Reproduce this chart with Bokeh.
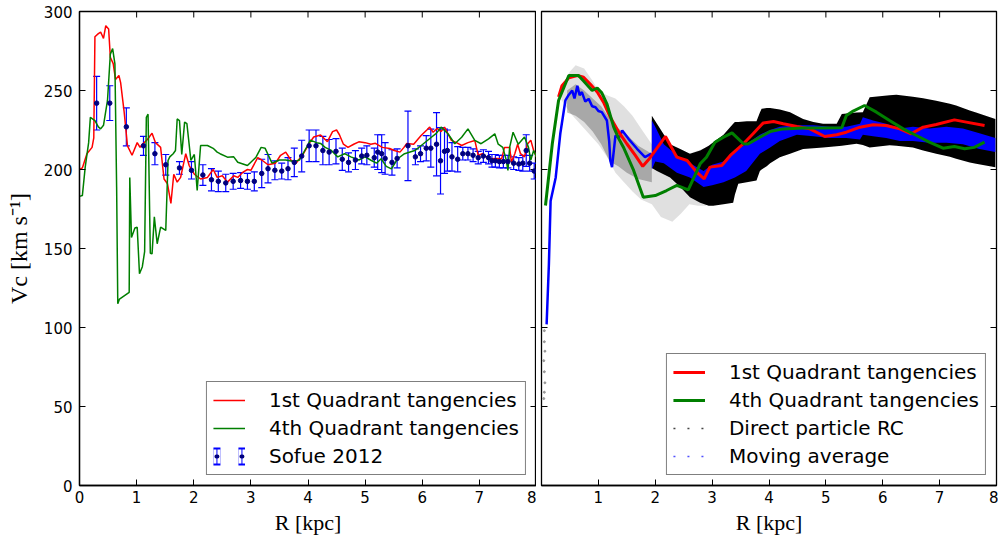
from bokeh.plotting import figure
from bokeh.models import (Range1d, FixedTicker, Legend, LegendItem,
                          Whisker, TeeHead, ColumnDataSource)
from bokeh.layouts import row
from bokeh.embed import file_html
from bokeh.resources import INLINE

# ---------------- data ----------------
x_ticks = [0, 1, 2, 3, 4, 5, 6, 7, 8]
y_ticks = [0, 50, 100, 150, 200, 250, 300]

# Left panel: 1st quadrant tangencies
q1_R = [0.0, 0.05, 0.13, 0.22, 0.25, 0.27, 0.33, 0.37, 0.42, 0.46, 0.51, 0.54, 0.59, 0.63, 0.69, 0.72,
        0.78, 0.84, 0.92, 1.01, 1.06, 1.1, 1.19, 1.27, 1.33, 1.42, 1.48, 1.54, 1.6, 1.65, 1.71, 1.77,
        1.86, 1.92, 2.01, 2.12, 2.24, 2.34, 2.41, 2.5, 2.59, 2.7, 2.77, 2.85, 2.94, 3.0, 3.12, 3.19,
        3.3, 3.43, 3.52, 3.61, 3.7, 3.79, 3.92, 4.03, 4.1, 4.22, 4.3, 4.34, 4.43, 4.5, 4.55, 4.62,
        4.7, 4.8, 4.89, 5.0, 5.1, 5.18, 5.3, 5.43, 5.51, 5.61, 5.68, 5.73, 5.85, 5.92, 5.98, 6.08,
        6.13, 6.19, 6.26, 6.33, 6.39, 6.46, 6.51, 6.6, 6.69, 6.8, 6.92, 6.98, 7.05, 7.16, 7.3, 7.39,
        7.44, 7.53, 7.56, 7.62, 7.67, 7.72, 7.79, 7.84, 7.9, 7.95, 8.0]
q1_V = [200, 201, 210, 214, 220, 284, 286, 287, 283, 291, 289, 271, 267, 257, 259.5, 255,
        237, 215, 209, 217, 214, 216, 219, 223, 217, 214, 194, 191, 178.5, 197, 192, 195,
        210, 202.5, 197, 194, 195, 200, 195, 196, 192, 196, 195, 198, 200, 199.5, 207.5, 206,
        203, 204, 209, 211, 206, 204, 210, 217, 220.6, 221.8, 219, 217.6, 224, 225, 222, 216,
        214, 216, 217.5, 217, 216, 216.6, 214, 213.3, 212, 211, 214, 216.5, 216, 219, 221.5, 225,
        226.8, 223.6, 226, 224, 226.8, 222, 218.4, 217, 215.2, 217, 218.4, 208.9, 210, 206.8, 207, 206.8,
        214, 214, 204.6, 210, 216, 210, 208, 216, 218.6, 212, 208]

# Left panel: 4th quadrant tangencies
q4_R = [0.0, 0.05, 0.1, 0.16, 0.19, 0.27, 0.33, 0.37, 0.42, 0.49, 0.54, 0.58, 0.62, 0.65, 0.67, 0.7,
        0.87, 0.88, 0.91, 0.97, 1.01, 1.05, 1.1, 1.14, 1.17, 1.2, 1.24, 1.27, 1.31, 1.36, 1.42, 1.51,
        1.55, 1.58, 1.64, 1.68, 1.71, 1.75, 1.79, 1.84, 1.88, 1.95, 2.01, 2.06, 2.12, 2.24, 2.34, 2.41,
        2.46, 2.59, 2.7, 2.77, 2.94, 3.09, 3.18, 3.25, 3.37, 3.5, 3.61, 3.75, 3.85, 3.98, 4.04, 4.15,
        4.22, 4.3, 4.4, 4.52, 4.64, 4.75, 4.89, 5.0, 5.11, 5.2, 5.28, 5.37, 5.46, 5.57, 5.69, 5.87,
        6.02, 6.16, 6.25, 6.33, 6.45, 6.57, 6.69, 6.8, 6.92, 7.03, 7.16, 7.27, 7.33, 7.41, 7.47, 7.5,
        7.53, 7.59, 7.68, 7.79, 7.86, 7.9, 7.95, 8.0]
q4_V = [183, 183.5, 201.5, 217, 233, 231, 227, 225.7, 228, 243.7, 273, 276.5, 266.8, 188.8, 115, 118,
        122.3, 195, 157, 163, 163.5, 134, 138.5, 148, 233, 235, 147, 146.6, 170, 153, 163.5, 161.4,
        205.7, 208, 210, 212, 232, 231, 209.5, 230, 229, 205.7, 209.5, 186.7, 215.2, 215.2, 213.4, 211,
        210, 207.8, 208, 204.6, 202.5, 207.8, 214, 213.4, 204, 206, 206, 205, 206, 214.4, 218.6, 217,
        216.5, 214, 212.3, 208, 210, 208, 206, 208, 205.7, 204, 206.8, 202, 200.4, 206.8, 210, 212,
        216.3, 220.4, 223, 226.8, 222.6, 216.3, 220.4, 225.7, 218.4, 216.3, 219.4, 222.6, 216, 214, 206, 199.4,
        214, 223.6, 216, 220.6, 214, 206, 212, 208]

# Left panel: Sofue 2012 points with errors
sofue_R = [0.30, 0.53, 0.82, 1.12, 1.32, 1.51, 1.75, 1.96, 2.16, 2.31, 2.43, 2.56, 2.69, 2.82, 2.94,
           3.06, 3.19, 3.30, 3.42, 3.54, 3.65, 3.76, 3.89, 4.02, 4.14, 4.26, 4.37, 4.49, 4.60, 4.71,
           4.83, 4.94, 5.03, 5.16, 5.22, 5.29, 5.35, 5.47, 5.56, 5.75, 5.88, 5.97, 6.07, 6.15, 6.25,
           6.32, 6.39, 6.44, 6.52, 6.62, 6.71, 6.80, 6.89, 6.98, 7.07, 7.16, 7.22, 7.28, 7.35, 7.42,
           7.50, 7.60, 7.69, 7.76, 7.82, 7.88, 7.96]
sofue_V = [242, 242, 227, 215, 210, 203, 201, 199.5, 196.5, 193.5, 192.5, 191.5, 192.5, 193, 192.5,
           192.5, 197.5, 200.5, 199.5, 199, 200.5, 204.5, 208.5, 215, 215, 212, 211, 211.5, 206.5, 204.5,
           206, 208.5, 209, 207.5, 211, 210, 207, 204.5, 207, 215, 208, 210, 213.5, 213.5, 216,
           205.5, 211.5, 212, 208, 206.5, 210, 210, 209, 207.5, 208.5, 207.5, 205.5, 205.5, 205, 205,
           205, 204, 203.5, 204, 212, 204, 199]
sofue_err = [17, 11, 12, 6, 7, 6.5, 4, 5.5, 6.5, 7, 6.5, 5.5, 5, 5, 5,
             6, 9, 9, 6, 5, 7, 9, 10, 10, 10, 9, 8, 8, 7, 6,
             6, 5, 6, 6, 11, 12, 10, 8, 6, 22, 5, 5, 8, 12, 20,
             21, 14, 13, 9, 8, 4, 4, 4, 4, 4, 4, 4, 4, 4, 4,
             4, 4, 4, 5, 10, 5, 5]

# Right panel: tangency curves
rq1_R = [0.3, 0.36, 0.48, 0.63, 0.74, 0.86, 0.98, 1.09, 1.21, 1.36, 1.5, 1.65, 1.78, 1.9, 2.18, 2.38,
         2.56, 2.73, 2.86, 2.96, 3.17, 3.32, 3.55, 3.72, 3.9, 4.08, 4.25, 4.49, 4.72, 4.98, 5.19, 5.36,
         5.6, 5.83, 6.06, 6.3, 6.5, 6.71, 6.94, 7.26, 7.47, 7.79]
rq1_V = [246, 253, 258, 259.5, 258.4, 254, 249, 242.6, 233, 223.6, 216.3, 208.9, 202, 207, 220.9, 207.8,
         205.7, 198.3, 194.1, 201.5, 202.5, 208.9, 216.3, 222.6, 229.5, 230.4, 229, 227.2, 225.7, 220.9, 222, 223.6,
         226.8, 228.3, 227.8, 225.7, 222.6, 226.8, 228.5, 231.4, 230, 227.8]
rq4_R = [0.07, 0.19, 0.3, 0.48, 0.65, 0.74, 0.89, 0.98, 1.06, 1.15, 1.27, 1.36, 1.44, 1.62, 1.79, 2.0,
         2.2, 2.38, 2.58, 2.79, 2.9, 3.05, 3.2, 3.35, 3.55, 3.63, 3.84, 4.02, 4.25, 4.6, 4.95, 5.28,
         5.36, 5.48, 5.68, 5.89, 6.12, 6.36, 6.59, 6.82, 7.06, 7.26, 7.44, 7.61, 7.79]
rq4_V = [177.2, 216.3, 243.7, 259.5, 259.5, 256, 250, 251.6, 248.5, 241.6, 226.8, 219.4, 214.1, 199.4, 182.5, 183.5,
         186.7, 189.9, 187.1, 203.6, 207.8, 217.3, 220.5, 223.2, 216.3, 216.1, 220.4, 224, 225.7, 226.2, 226.2, 226.4,
         234.2, 237, 240.5, 236.3, 231, 225.7, 221.5, 217.3, 213.5, 214.5, 213.1, 214, 217.3]

# Right panel: moving average (inner line, then band)
mavg_R = [0.09, 0.13, 0.16, 0.25, 0.33, 0.42, 0.47, 0.54, 0.58, 0.63, 0.67, 0.71, 0.77, 0.83, 0.89, 0.95,
          1.0, 1.06, 1.15, 1.19, 1.21, 1.24, 1.3, 1.36, 1.42, 1.53, 1.68, 1.82, 1.93]
mavg_V = [102, 140, 180, 195, 222.6, 243.7, 246.8, 250, 245, 253, 247, 249, 243, 244.7, 240, 239.4,
          237, 236.3, 231, 218, 205.7, 201.5, 221.5, 220, 224.7, 219.4, 213.1, 207.8, 210]
band_R = [1.94, 2.0, 2.15, 2.38, 2.61, 2.85, 3.0, 3.2, 3.4, 3.6, 3.84, 4.02, 4.19, 4.49, 4.78, 5.07,
          5.36, 5.6, 5.65, 5.83, 6.06, 6.3, 6.53, 6.82, 7.12, 7.41, 7.7, 7.98]
band_lo = [200, 205, 204, 198, 195, 189, 190, 192, 195, 199, 210, 214, 218, 222, 221, 220,
           220, 219, 222, 221, 220, 218, 218, 217, 217, 216, 213, 211]
band_hi = [231, 227, 216, 209, 204, 199, 203, 205, 212, 216, 222, 225, 227, 228, 228, 227,
           227, 229, 233, 231, 229, 226, 227, 226, 227, 226, 223, 220]

# Right panel: direct particle RC (dense envelope, sparse cloud, low-R particles)
black_R = [1.94, 2.03, 2.26, 2.44, 2.61, 2.79, 2.94, 3.02, 3.2, 3.37, 3.4, 3.46, 3.61, 3.78, 3.84, 3.87,
           3.96, 4.02, 4.19, 4.37, 4.6, 4.78, 4.95, 5.19, 5.28, 5.54, 5.65, 5.77, 6.12, 6.24, 6.53, 6.71,
           6.94, 7.18, 7.29, 7.53, 7.64, 7.98]
black_lo = [201, 199, 195, 189, 182.5, 179, 177, 177, 178, 179, 184, 191, 192, 193, 199, 200,
            202, 204, 207.8, 210, 213, 213.5, 214, 214.7, 215, 216.3, 215.5, 214, 215.4, 215, 214, 212,
            210, 208, 206.8, 204.5, 203.6, 201.5]
black_hi = [234, 229, 216, 213, 210, 212, 215, 217.3, 222, 229, 230, 230, 230.6, 230.5, 236, 238.4,
            239, 239, 238, 236.3, 232, 230, 229, 229, 235.2, 236, 236.3, 245.8, 247, 247.3, 246, 245.1,
            243.5, 241.6, 240.5, 237.3, 236, 232]
cloud_R = [0.35, 0.5, 0.6, 0.75, 0.9, 1.0, 1.15, 1.3, 1.45, 1.6, 1.75, 1.94, 2.1, 2.3, 2.45, 2.6, 2.75, 2.9]
cloud_hi = [252, 262, 266, 264, 256, 250, 247, 245, 240, 234, 226, 216, 214, 212, 212, 210, 212, 214]
cloud_lo = [244, 236, 232, 226, 220, 216, 208, 198, 192, 186, 181, 178, 170, 167, 172, 178, 177, 177]
dense_R = [0.45, 0.6, 0.75, 0.9, 1.05, 1.2, 1.35, 1.5, 1.7, 1.94]
dense_hi = [250, 254, 250, 245, 240, 232, 226, 222, 215, 210]
dense_lo = [236, 234, 230, 224, 216, 205, 202, 198, 194, 192]
low_R = [0.05, 0.05, 0.06, 0.04, 0.05, 0.06, 0.05, 0.04]
low_V = [98, 91, 85, 79, 72, 65, 59, 55]

# ---------------- layout constants ----------------
H = 540
FRAME_TOP, FRAME_BOTTOM = 11, 485
P1_W, P1_LEFT, P1_RIGHT = 536, 79, 0
P2_W, P2_LEFT, P2_RIGHT = 462, 5, 2
TICK_PX = 6
RED, GREEN, BLUE, NAVY = "#ff0000", "#007f00", "#0000ff", "#00007f"
SERIF = "Liberation Serif"


def make_fig(width, left, right):
    p = figure(width=width, height=H, x_range=Range1d(0, 8), y_range=Range1d(0, 300),
               output_backend="svg", toolbar_location=None,
               min_border_left=left, min_border_right=right,
               min_border_top=FRAME_TOP, min_border_bottom=H - FRAME_BOTTOM)
    p.grid.visible = False
    p.outline_line_color = "black"
    p.outline_line_width = 1.3
    p.background_fill_color = "white"
    p.border_fill_color = "white"
    return p


def style_axis(ax, ticks, standoff, overrides=None):
    ax.ticker = FixedTicker(ticks=ticks)
    ax.major_tick_in = TICK_PX
    ax.major_tick_out = 0
    ax.major_tick_line_color = "black"
    ax.minor_tick_line_color = None
    ax.axis_line_color = "black"
    ax.axis_line_width = 1.3
    ax.major_label_text_font = "DejaVu Sans"
    ax.major_label_text_font_size = "15px"
    ax.major_label_text_color = "black"
    ax.major_label_standoff = standoff
    if overrides:
        ax.major_label_overrides = overrides
    ax.axis_label_text_font = SERIF
    ax.axis_label_text_font_size = "22px"
    ax.axis_label_text_font_style = "normal"
    ax.axis_label_text_color = "black"


def inner_ticks(p, frame_w, left_side):
    """Inward ticks on the top/right (and optionally left) frame edges."""
    ty = TICK_PX * 300.0 / (FRAME_BOTTOM - FRAME_TOP)
    tx = TICK_PX * 8.0 / frame_w
    nx, ny = len(x_ticks), len(y_ticks)
    p.segment(x0=x_ticks, y0=[300] * nx, x1=x_ticks, y1=[300 - ty] * nx, line_color="black", line_width=1)
    p.segment(x0=[8] * ny, y0=y_ticks, x1=[8 - tx] * ny, y1=y_ticks, line_color="black", line_width=1)
    if left_side:
        p.segment(x0=[0] * ny, y0=y_ticks, x1=[tx] * ny, y1=y_ticks, line_color="black", line_width=1)


def style_legend(lg):
    lg.location = "bottom_right"
    lg.margin = 10
    lg.padding = 6
    lg.spacing = 4
    lg.glyph_width = 32
    lg.glyph_height = 22
    lg.label_height = 22
    lg.label_standoff = 24
    lg.label_text_font = "DejaVu Sans"
    lg.label_text_font_size = "20px"
    lg.label_text_color = "black"
    lg.border_line_color = "black"
    lg.border_line_width = 1
    lg.background_fill_color = "white"
    lg.background_fill_alpha = 1.0


# ---------------- left panel ----------------
p1 = make_fig(P1_W, P1_LEFT, P1_RIGHT)
style_axis(p1.xaxis[0], x_ticks, 5)
style_axis(p1.yaxis[0], y_ticks, 7)
p1.xaxis.axis_label = "R [kpc]"
p1.xaxis.axis_label_standoff = 4
p1.yaxis.axis_label = "Vc [km s\u207b\u00b9]"
p1.yaxis.axis_label_text_font_size = "24px"
p1.yaxis.axis_label_standoff = 9
inner_ticks(p1, P1_W - P1_LEFT - P1_RIGHT, False)

r_q1 = p1.line(q1_R, q1_V, line_color=RED, line_width=1.5)
r_q4 = p1.line(q4_R, q4_V, line_color=GREEN, line_width=1.5)

sofue_src = ColumnDataSource(dict(
    R=sofue_R, V=sofue_V,
    lo=[v - e for v, e in zip(sofue_V, sofue_err)],
    hi=[v + e for v, e in zip(sofue_V, sofue_err)]))
p1.add_layout(Whisker(source=sofue_src, base="R", lower="lo", upper="hi", dimension="height",
                      line_color=BLUE, line_width=1.2,
                      lower_head=TeeHead(size=7, line_color=BLUE, line_width=1.2),
                      upper_head=TeeHead(size=7, line_color=BLUE, line_width=1.2)))
p1.scatter("R", "V", source=sofue_src, size=4.5, color=NAVY)

# legend proxies for the error-bar entry (single point -> nothing drawn in the frame)
eb_bar = p1.line(sofue_R[:1], sofue_V[:1], line_color=BLUE, line_width=18, line_dash="7 18")
eb_cut = p1.line(sofue_R[:1], sofue_V[:1], line_color="white", line_width=14, line_dash="3 1 3 18")
eb_dot = p1.line(sofue_R[:1], sofue_V[:1], line_color=NAVY, line_width=4, line_dash="1 24",
                 line_dash_offset=22, line_cap="round")

leg1 = Legend(items=[
    LegendItem(label="1st Quadrant tangencies", renderers=[r_q1]),
    LegendItem(label="4th Quadrant tangencies", renderers=[r_q4]),
    LegendItem(label="Sofue 2012", renderers=[eb_bar, eb_cut, eb_dot]),
])
style_legend(leg1)
p1.add_layout(leg1)

# ---------------- right panel ----------------
p2 = make_fig(P2_W, P2_LEFT, P2_RIGHT)
style_axis(p2.xaxis[0], x_ticks, 5, {0: ""})
p2.xaxis.axis_label = "R [kpc]"
p2.xaxis.axis_label_standoff = 4
p2.yaxis.visible = False
inner_ticks(p2, P2_W - P2_LEFT - P2_RIGHT, True)

p2.varea(x=cloud_R, y1=cloud_lo, y2=cloud_hi, fill_color="black", fill_alpha=0.12)
p2.varea(x=dense_R, y1=dense_lo, y2=dense_hi, fill_color="black", fill_alpha=0.25)
p2.varea(x=black_R, y1=black_lo, y2=black_hi, fill_color="black", fill_alpha=1.0)
p2.scatter(low_R, low_V, size=2, color="grey", alpha=0.7)
p2.varea(x=band_R, y1=band_lo, y2=band_hi, fill_color=BLUE, fill_alpha=1.0)
p2.line(mavg_R, mavg_V, line_color=BLUE, line_width=2.5)
r2_q1 = p2.line(rq1_R, rq1_V, line_color=RED, line_width=3)
r2_q4 = p2.line(rq4_R, rq4_V, line_color=GREEN, line_width=3)

lg_direct = p2.line(low_R[:1], low_V[:1], line_color="#444444", line_width=1.6, line_dash="2 12")
lg_mavg = p2.line(mavg_R[:1], mavg_V[:1], line_color="#5050ff", line_width=1.6, line_dash="2 12")

leg2 = Legend(items=[
    LegendItem(label="1st Quadrant tangencies", renderers=[r2_q1]),
    LegendItem(label="4th Quadrant tangencies", renderers=[r2_q4]),
    LegendItem(label="Direct particle RC", renderers=[lg_direct]),
    LegendItem(label="Moving average", renderers=[lg_mavg]),
])
style_legend(leg2)
p2.add_layout(leg2)

layout = row(p1, p2)
open("out.html", "w").write(file_html(layout, INLINE))
